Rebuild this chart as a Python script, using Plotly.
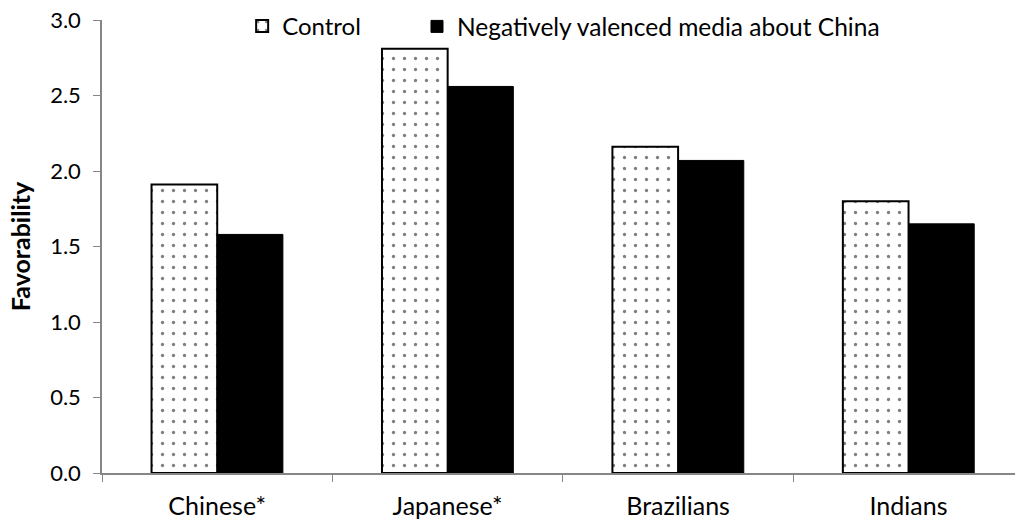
import plotly.graph_objects as go

categories = ["Chinese*", "Japanese*", "Brazilians", "Indians"]
control = [1.91, 2.81, 2.16, 1.80]
negative = [1.58, 2.56, 2.07, 1.65]
series_names = ["Control", "Negatively valenced media about China"]
y_ticks = [0.0, 0.5, 1.0, 1.5, 2.0, 2.5, 3.0]
y_ticklabels = ["0.0", "0.5", "1.0", "1.5", "2.0", "2.5", "3.0"]

FONT = "Lato"
AXIS = "#868686"

fig = go.Figure()
fig.add_trace(go.Bar(
    x=categories, y=control, name=series_names[0], legend="legend",
    marker=dict(color="white", line=dict(color="black", width=2),
                pattern=dict(shape=".", fgcolor="black", bgcolor="white",
                             size=11, solidity=0.07, fillmode="overlay")),
))
fig.add_trace(go.Bar(
    x=categories, y=negative, name=series_names[1], legend="legend2",
    marker=dict(color="black", line=dict(color="black", width=1)),
))

leg_common = dict(orientation="h", y=0.9857, xanchor="left", yanchor="middle",
                  bgcolor="rgba(0,0,0,0)")

fig.update_layout(
    width=1015, height=526,
    paper_bgcolor="white", plot_bgcolor="white",
    margin=dict(l=102, r=0, t=20, b=53, autoexpand=False),
    barmode="group", bargap=0.43, bargroupgap=0,
    font=dict(family=FONT, size=22, color="black"),
    showlegend=True,
    legend=dict(x=0.1535, font=dict(size=24), **leg_common),
    legend2=dict(x=0.345, font=dict(size=24.5), **leg_common),
    xaxis=dict(range=[-0.5, 3.462], showline=True, linecolor=AXIS, linewidth=1.5,
               ticks="outside", tickson="boundaries", ticklen=7, tickcolor=AXIS,
               showgrid=False, ticklabelstandoff=10, tickfont=dict(size=25)),
    yaxis=dict(range=[0, 3.0], tickvals=y_ticks, ticktext=y_ticklabels,
               showline=True, linecolor=AXIS, linewidth=1.5,
               ticks="outside", ticklen=7, tickcolor=AXIS, showgrid=False, zeroline=False,
               ticklabelstandoff=8, tickfont=dict(size=22),
               title=dict(text="<b>Favorability</b>", font=dict(size=25), standoff=12)),
)

fig.write_html("out.html", config={"displayModeBar": False},
               post_script="document.body.style.margin='0';document.body.style.overflow='hidden';")
